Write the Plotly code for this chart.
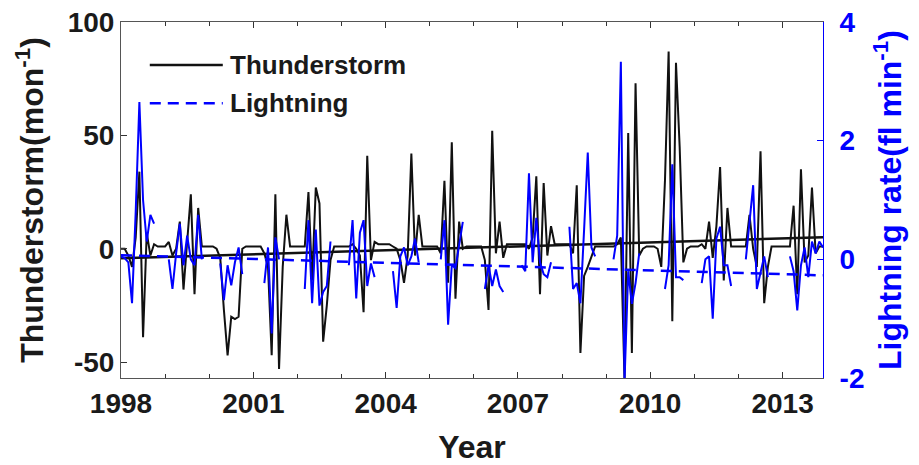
import plotly.graph_objects as go

# ---------------- data ----------------
start_year = 1998
n_months = 192  # Jan 1998 .. Dec 2013

N = None
thunder = [
    # 1998
    0, 0, -3, -8, 5, 34, -39, 7, -3, 2, 1, 1,
    # 1999
    1, 3, -3, 0, 12, -18, 5, 24, -20, 18, 1, 1,
    # 2000
    1, 1, 0, -4, -27, -47, -30, -31, -30, 0, 1, 1,
    # 2001
    1, 1, 1, -2, -8, -47, 24, -53, -8, 15, 1, 1,
    # 2002
    1, 1, 1, 25, -14, 27, 20, -41, -25, -5, 1, 1,
    # 2003
    1, 1, 1, 2, 0, -3, -28, 41, -5, 3, 2, 2,
    # 2004
    2, 2, 1, 0, -5, -15, -3, 42, -3, 15, 1, 1,
    # 2005
    1, 1, 1, -2, 30, -15, 47, -22, 12, 0, 1, 1,
    # 2006
    1, 1, 1, -5, -27, 52, -2, 12, -4, 2, 2, 2,
    # 2007
    2, 2, 2, 0, 5, 32, -20, 29, -3, 10, 2, 2,
    # 2008
    2, 2, 2, -2, 28, -46, -12, -8, -3, 1, 1, 1,
    # 2009
    1, 1, 1, 2, 5, -58, 51, -46, 73, -3, 0, 1,
    # 2010
    1, 1, 0, -8, 30, 87, -32, 82, 45, -6, 0, 1,
    # 2011
    1, 1, 2, 0, 12, -4, 10, 36, -14, 18, 1, 1,
    # 2012
    1, 1, 1, 15, 0, -8, 43, -24, -8, 1, 1, 1,
    # 2013
    1, 1, 1, 19, -20, 35, -6, -3, 27, -2, 1, 1,
]

lightning = [
    # 1998
    0.05, 0.02, -0.05, -0.74, 0.8, 2.65, 1.0, 0.3, 0.75, 0.6, N, N,
    # 1999
    N, 0.0, -0.5, 0.1, 0.6, -0.1, 0.4, 0.0, -0.1, 0.75, 0.0, N,
    # 2000
    N, N, N, -0.07, -0.69, -0.1, -0.44, -0.05, 0.2, -0.25, N, N,
    # 2001
    N, N, N, -0.4, 0.2, -1.25, 0.37, 0.0, N, N, N, N,
    # 2002
    N, N, -0.5, 0.66, -0.74, 0.5, -0.78, -0.55, -0.45, 0.3, N, N,
    # 2003
    N, N, -0.1, 0.66, -0.66, 0.45, 0.66, -0.45, -0.07, -0.3, N, N,
    # 2004
    N, N, -0.2, -0.82, 0.05, 0.2, -0.1, 0.05, 0.35, -0.05, N, N,
    # 2005
    N, N, N, 0.0, 0.66, -1.1, -0.1, -0.15, 0.25, 0.63, N, N,
    # 2006
    N, N, N, -0.5, -0.1, -0.45, -0.17, -0.45, -0.55, N, N, N,
    # 2007
    N, -0.1, -0.2, 1.45, -0.05, 0.7, -0.05, -0.25, -0.3, -0.05, N, N,
    # 2008
    N, N, 0.55, -0.5, -0.4, -0.74, 0.5, 1.8, 0.2, 0.05, N, N,
    # 2009
    N, N, 0.0, 0.4, 3.33, -2.05, -0.2, -0.75, -0.4, 0.1, N, N,
    # 2010
    N, N, N, N, -0.5, -0.1, 1.6, -0.3, -0.3, -0.35, N, N,
    # 2011
    N, N, -0.4, 0.0, 0.05, -1.0, 0.35, 0.55, -0.1, -0.1, -0.45, N,
    # 2012
    N, N, 0.0, 0.6, 1.25, -0.5, -0.2, 0.05, -0.3, N, N, N,
    # 2013
    N, N, 0.05, -0.2, -0.86, -0.1, 0.2, -0.3, 0.3, 0.1, 0.3, 0.2,
]

# linear trends (values at first and last month)
thunder_trend = [-4.2, 5.1]
lightning_trend = [0.07, -0.27]

x_tick_years = [1998, 2001, 2004, 2007, 2010, 2013]
x_tick_labels = ["1998", "2001", "2004", "2007", "2010", "2013"]
left_ticks = [-50, 0, 50, 100]
left_tick_labels = ["-50", "0", "50", "100"]
right_ticks = [-2, 0, 2, 4]
right_tick_labels = ["-2", "0", "2", "4"]
left_range = [-57, 100]
right_range = [-2, 4]

legend_names = ["Thunderstorm", "Lightning"]

# ---------------- figure ----------------
x = [start_year + i / 12 for i in range(n_months)]

BLACK = "#111111"
BLUE = "#0000ff"
FONT = "Liberation Sans, Arial, sans-serif"
TXT = "#1a1a1a"

fig = go.Figure()
fig.add_trace(go.Scatter(x=x, y=thunder, mode="lines",
                         line=dict(color=BLACK, width=2), showlegend=False))
fig.add_trace(go.Scatter(x=[x[0], x[-1]], y=thunder_trend, mode="lines",
                         line=dict(color=BLACK, width=2.5), showlegend=False))
fig.add_trace(go.Scatter(x=x, y=lightning, mode="lines", yaxis="y2",
                         connectgaps=False,
                         line=dict(color=BLUE, width=2), showlegend=False))
fig.add_trace(go.Scatter(x=[x[0], x[-1]], y=lightning_trend, mode="lines",
                         yaxis="y2",
                         line=dict(color=BLUE, width=2.5, dash="11px,7px"),
                         showlegend=False))

tickfont = dict(family=FONT, size=28, color=TXT, weight="bold")
titlefont = dict(family=FONT, size=32, color=TXT, weight="bold")

fig.update_layout(
    width=919, height=465, autosize=False,
    margin=dict(l=121, r=96, t=22, b=87),
    paper_bgcolor="white", plot_bgcolor="white",
    showlegend=False,
    xaxis=dict(
        range=[x[0], x[-1]], automargin=False,
        tickvals=x_tick_years, ticktext=x_tick_labels,
        ticks="inside", ticklen=6, tickwidth=1, tickcolor="#333",
        minor=dict(dtick=1, tick0=start_year, ticks="inside", ticklen=4,
                   tickcolor="#333", showgrid=False),
        showline=True, linecolor="#555", linewidth=1, mirror="ticks",
        showgrid=False, zeroline=False,
        tickfont=tickfont,
        title=dict(text="Year", font=titlefont, standoff=25),
    ),
    yaxis=dict(
        range=left_range, automargin=False,
        tickvals=left_ticks, ticktext=left_tick_labels,
        ticks="inside", ticklen=6, tickcolor="#333",
        showline=True, linecolor="#555", linewidth=1,
        showgrid=False, zeroline=False,
        tickfont=tickfont,
        title=dict(text="Thunderstorm(mon<sup>-1</sup>)", font=titlefont,
                   standoff=14),
    ),
    yaxis2=dict(
        range=right_range, overlaying="y", side="right", automargin=False,
        tickvals=right_ticks, ticktext=right_tick_labels,
        ticks="inside", ticklen=6, tickcolor=BLUE,
        ticklabelstandoff=10,
        showline=True, linecolor=BLUE, linewidth=1,
        showgrid=False, zeroline=False,
        tickfont=dict(family=FONT, size=28, color=BLUE, weight="bold"),
        title=dict(text="Lightning rate(fl min<sup>-1</sup>)",
                   font=dict(family=FONT, size=32, color=BLUE, weight="bold"),
                   standoff=15),
    ),
)

# manual legend (long line samples, as in the reference)
leg_items = [(legend_names[0], BLACK, "solid", 0.879),
             (legend_names[1], BLUE, "dash", 0.772)]
for name, col, dash, yy in leg_items:
    fig.add_shape(type="line", xref="paper", yref="paper",
                  x0=0.041, x1=0.145, y0=yy, y1=yy,
                  line=dict(color=col, width=2.5,
                            dash="11px,7px" if dash == "dash" else "solid"))
    fig.add_annotation(xref="paper", yref="paper", x=0.153, y=yy,
                       xanchor="left", yanchor="middle", showarrow=False,
                       text=name,
                       font=dict(family=FONT, size=26, color=TXT,
                                 weight="bold"))

fig.write_html("out.html")
